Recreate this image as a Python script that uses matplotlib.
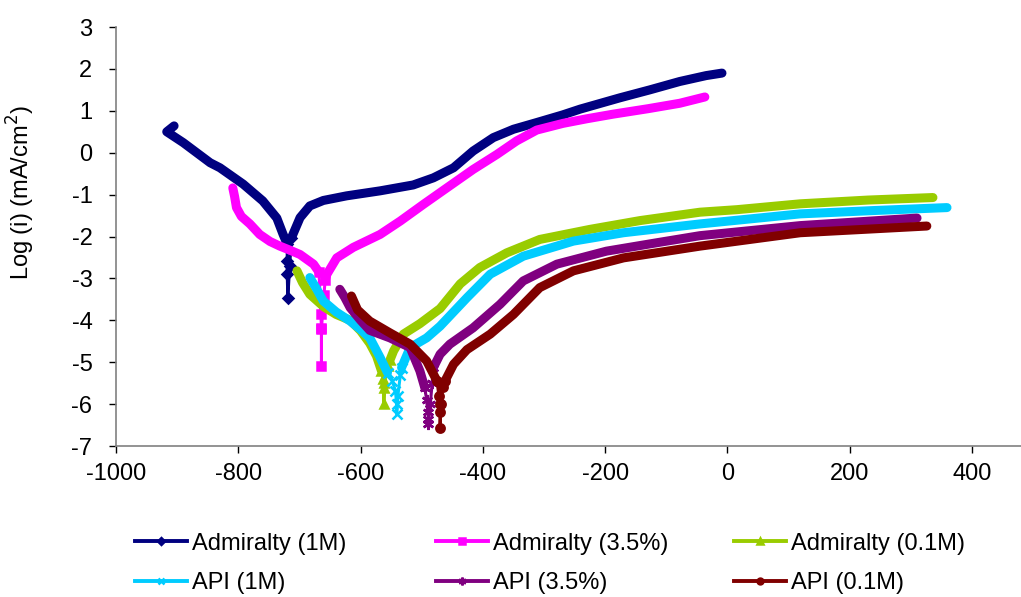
import matplotlib

matplotlib.use("Agg")
import matplotlib.pyplot as plt

plt.rcParams["font.family"] = ["Liberation Sans", "DejaVu Sans"]
plt.rcParams["axes.unicode_minus"] = False

# Potential (mV) and log current density for each polarization run,
# split into cathodic branch, the sparse points around Ecorr, and anodic branch.
ADM_1M_CATH_E = [-905, -917, -890, -846, -830, -792, -760, -737, -727, -720]
ADM_1M_CATH_I = [0.64, 0.50, 0.24, -0.24, -0.36, -0.75, -1.15, -1.56, -1.94, -2.18]
ADM_1M_CORR_E = [-720, -720, -720, -719, -716, -713]
ADM_1M_CORR_I = [-2.18, -2.58, -2.89, -3.46, -2.70, -2.03]
ADM_1M_ANOD_E = [-713, -699, -683, -661, -623, -568, -514, -481, -448, -416, -383,
                 -350, -312, -270, -241, -176, -127, -78, -35, -9]
ADM_1M_ANOD_I = [-2.03, -1.55, -1.27, -1.14, -1.03, -0.91, -0.77, -0.60, -0.36, 0.04, 0.36,
                 0.56, 0.72, 0.90, 1.04, 1.31, 1.50, 1.70, 1.84, 1.90]

ADM_35_CATH_E = [-809, -806, -803, -795, -781, -765, -748, -732, -715, -699, -677, -668]
ADM_35_CATH_I = [-0.84, -1.05, -1.31, -1.52, -1.70, -1.95, -2.12, -2.23, -2.33, -2.43, -2.66, -2.85]
ADM_35_CORR_E = [-668, -665, -664, -664, -664, -660, -658]
ADM_35_CORR_I = [-2.85, -3.86, -4.18, -5.09, -4.20, -3.40, -3.05]
ADM_35_ANOD_E = [-658, -655, -639, -612, -568, -535, -497, -459, -416, -377, -345,
                 -312, -269, -230, -187, -130, -78, -37]
ADM_35_ANOD_I = [-3.05, -2.90, -2.51, -2.26, -1.95, -1.63, -1.23, -0.84, -0.40, -0.04, 0.28,
                 0.54, 0.70, 0.81, 0.92, 1.05, 1.18, 1.33]

ADM_01_CATH_E = [-704, -695, -683, -660, -640, -617, -600, -585, -574, -566]
ADM_01_CATH_I = [-2.82, -3.10, -3.38, -3.68, -3.86, -4.00, -4.25, -4.55, -4.85, -5.20]
ADM_01_CORR_E = [-566, -563, -562, -562, -561, -556, -552]
ADM_01_CORR_I = [-5.20, -5.40, -5.61, -6.00, -5.50, -5.10, -4.95]
ADM_01_ANOD_E = [-552, -546, -530, -503, -470, -437, -405, -361, -307, -225,
                 -143, -45, 15, 119, 230, 336]
ADM_01_ANOD_I = [-4.95, -4.73, -4.33, -4.08, -3.72, -3.13, -2.74, -2.39, -2.07, -1.83,
                 -1.62, -1.42, -1.36, -1.22, -1.13, -1.07]

API_1M_CATH_E = [-683, -672, -661, -640, -617, -600, -585, -568, -556]
API_1M_CATH_I = [-2.98, -3.25, -3.54, -3.80, -4.02, -4.22, -4.42, -4.89, -5.25]
API_1M_CORR_E = [-556, -548, -543, -541, -541, -539, -535, -533]
API_1M_CORR_I = [-5.25, -5.45, -5.69, -6.00, -6.24, -5.80, -5.30, -5.13]
API_1M_ANOD_E = [-533, -519, -492, -470, -426, -388, -334, -252, -170, -45, 119, 240, 359]
API_1M_ANOD_I = [-5.13, -4.65, -4.42, -4.14, -3.46, -2.90, -2.47, -2.11, -1.91, -1.70,
                 -1.46, -1.38, -1.31]

API_35_CATH_E = [-634, -626, -617, -600, -585, -552, -519, -503, -495]
API_35_CATH_I = [-3.26, -3.45, -3.70, -4.00, -4.24, -4.42, -4.65, -5.21, -5.61]
API_35_CORR_E = [-495, -492, -490, -489, -489, -486, -483, -481]
API_35_CORR_I = [-5.61, -5.90, -6.20, -6.35, -6.48, -6.00, -5.50, -5.13]
API_35_ANOD_E = [-481, -470, -454, -416, -372, -334, -279, -198, -116, -45, 119, 310]
API_35_ANOD_I = [-5.13, -4.81, -4.57, -4.18, -3.62, -3.06, -2.66, -2.35, -2.15, -1.98,
                 -1.74, -1.56]

API_01_CATH_E = [-615, -605, -585, -552, -519, -492, -475]
API_01_CATH_I = [-3.42, -3.75, -4.02, -4.30, -4.57, -4.97, -5.45]
API_01_CORR_E = [-475, -472, -470, -470, -470, -469, -466, -462]
API_01_CORR_I = [-5.45, -5.80, -6.00, -6.20, -6.56, -6.00, -5.60, -5.45]
API_01_ANOD_E = [-462, -448, -426, -388, -350, -307, -252, -170, -45, 119, 326]
API_01_ANOD_I = [-5.45, -5.05, -4.70, -4.33, -3.86, -3.22, -2.82, -2.51, -2.23, -1.91, -1.75]

SERIES = [
    ("Admiralty (1M)", "#000080", "D", 5,
     ADM_1M_CATH_E, ADM_1M_CATH_I, ADM_1M_CORR_E, ADM_1M_CORR_I, ADM_1M_ANOD_E, ADM_1M_ANOD_I),
    ("Admiralty (3.5%)", "#FF00FF", "s", 6,
     ADM_35_CATH_E, ADM_35_CATH_I, ADM_35_CORR_E, ADM_35_CORR_I, ADM_35_ANOD_E, ADM_35_ANOD_I),
    ("Admiralty (0.1M)", "#99CC00", "^", 6,
     ADM_01_CATH_E, ADM_01_CATH_I, ADM_01_CORR_E, ADM_01_CORR_I, ADM_01_ANOD_E, ADM_01_ANOD_I),
    ("API (1M)", "#00CCFF", "x", 7,
     API_1M_CATH_E, API_1M_CATH_I, API_1M_CORR_E, API_1M_CORR_I, API_1M_ANOD_E, API_1M_ANOD_I),
    ("API (3.5%)", "#800080", (6, 2, 0), 8,
     API_35_CATH_E, API_35_CATH_I, API_35_CORR_E, API_35_CORR_I, API_35_ANOD_E, API_35_ANOD_I),
    ("API (0.1M)", "#800000", "o", 6,
     API_01_CATH_E, API_01_CATH_I, API_01_CORR_E, API_01_CORR_I, API_01_ANOD_E, API_01_ANOD_I),
]

X_TICKS = [-1000, -800, -600, -400, -200, 0, 200, 400]
Y_TICKS = [-7, -6, -5, -4, -3, -2, -1, 0, 1, 2, 3]

FONT = 17
BAND = 6.5

fig = plt.figure(figsize=(10.21, 5.97), dpi=100)
ax = fig.add_axes([116 / 1021, 151 / 597, 905 / 1021, 419 / 597])

handles = []
for name, color, marker, ms, ce, ci, ke, ki, ae, ai in SERIES:
    ax.plot(ce, ci, color=color, lw=BAND, solid_capstyle="round", solid_joinstyle="round")
    ax.plot(ae, ai, color=color, lw=BAND, solid_capstyle="round", solid_joinstyle="round")
    (h,) = ax.plot(ke, ki, color=color, lw=2.2, marker=marker, ms=ms, mew=1.8,
                   mfc=color, mec=color, label=name)
    handles.append(h)

ax.set_xlim(-1000, 480)
ax.set_ylim(-7, 3)
ax.set_xticks(X_TICKS)
ax.set_yticks(Y_TICKS)
ax.tick_params(axis="x", direction="out", length=5, width=1, pad=7, labelsize=FONT)
ax.tick_params(axis="y", direction="out", length=5, width=1, pad=12, labelsize=FONT)
for side in ("top", "right"):
    ax.spines[side].set_visible(False)
for side in ("left", "bottom"):
    ax.spines[side].set_color("#808080")
    ax.spines[side].set_linewidth(1.2)

ax.set_ylabel("Log (i) (mA/cm$^2$)", fontsize=FONT)
ax.yaxis.set_label_coords(-0.087, 0.605)

# one legend per column so the columns sit at even spacing
col_x = [135, 436, 734]
for col, x0 in enumerate(col_x):
    pair = [handles[col], handles[col + 3]]
    leg = fig.legend(pair, [h.get_label() for h in pair], loc="center left",
                     bbox_to_anchor=(x0 / 1021, (597 - 563.5) / 597), frameon=False,
                     fontsize=FONT, handlelength=2.2, handletextpad=0.2,
                     borderpad=0, borderaxespad=0, labelspacing=0.75, markerscale=0.7)
    for line in leg.get_lines():
        line.set_linewidth(2.8)

fig.savefig("out.png", dpi=100)
